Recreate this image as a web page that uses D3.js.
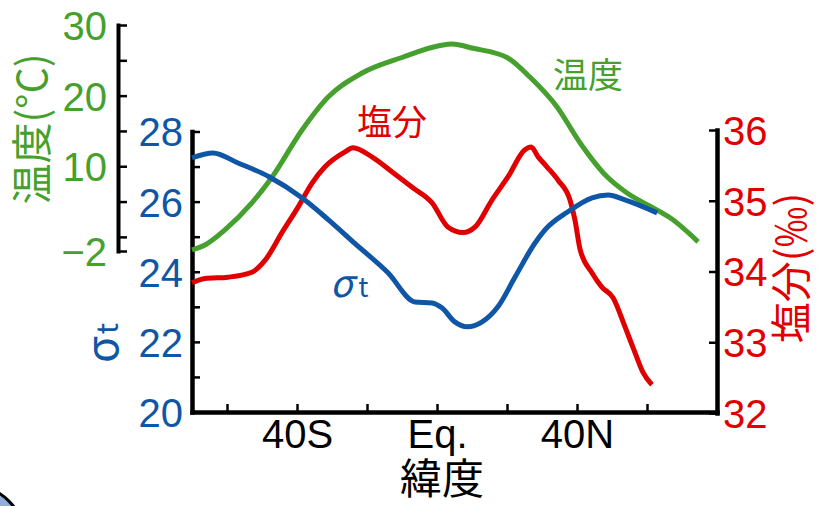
<!DOCTYPE html>
<html>
<head>
<meta charset="utf-8">
<script src="https://cdn.jsdelivr.net/npm/d3@7"></script>
<style>
  body { margin: 0; background: #fff; }
  svg { display: block; }
  .num { font-family: "Liberation Sans", Arial, sans-serif; font-size: 40px; }
  .jp { font-family: "Noto Sans CJK JP", sans-serif; }
</style>
</head>
<body>
<svg id="chart" width="819" height="506"></svg>
<script>
// latitude in degrees (S negative, N positive)
const latSigma = [-70, -64, -57, -48, -38.6, -31, -23.4, -14, -6.3, -1.4, 1.4, 5.1, 8.6, 12.9, 17.4, 22.3, 28, 30.9, 37.4, 44.3, 48.9, 53.7, 62.9]
const sigmaT = [27.25, 27.39, 27.11, 26.71, 26.11, 25.48, 24.8, 23.97, 23.14, 23.11, 22.97, 22.57, 22.43, 22.57, 23.0, 23.85, 24.82, 25.2, 25.71, 26.11, 26.19, 26.05, 25.68]

const latTemp = [-70, -66.3, -60.6, -52.9, -47.1, -38.6, -31.1, -21.4, -10, 0.9, 4.3, 10.3, 20, 26.6, 34.3, 40.9, 48.6, 54.3, 62.9, 66.6, 74.6]
const temperature = [-1.85, -1.15, 0.98, 4.8, 8.48, 15.1, 19.8, 23.2, 25.4, 27.1, 27.3, 26.7, 25.4, 22.6, 18.4, 13.3, 8.5, 6.2, 3.8, 2.7, -0.7]

const latSal = [-70, -66.3, -59.7, -52.9, -49.1, -44.3, -39.7, -35.7, -32, -26.3, -24, -18.6, -12.9, -7.1, -1.4, 3.1, 7.4, 10.9, 15.7, 20.3, 25.1, 26.9, 28.9, 31.4, 34.6, 38, 39.4, 40.9, 44.3, 47.1, 50.3, 53.7, 56.6, 58.9, 61.4]
const salinity = [33.84, 33.9, 33.92, 33.99, 34.16, 34.55, 34.91, 35.25, 35.48, 35.69, 35.75, 35.62, 35.41, 35.19, 34.97, 34.63, 34.55, 34.63, 35.01, 35.34, 35.72, 35.76, 35.62, 35.48, 35.29, 35.01, 34.73, 34.31, 33.98, 33.78, 33.63, 33.22, 32.85, 32.57, 32.4]

const latTicks = [-60, -40, -20, 0, 20, 40, 60]
const latLabels = { "-40": "40S", "0": "Eq.", "40": "40N" }
const sigmaTicks = [20, 21, 22, 23, 24, 25, 26, 27, 28]
const salTicks = [32, 33, 34, 35, 36]
const tempTicks = [-2, 0, 5, 10, 15, 20, 25, 30]
const tempLabels = [30, 20, 10, -2]

const blue = "#0f56a6", green = "#45a02d", red = "#e00000"

const svg = d3.select("#chart")

// corner decoration
svg.append("circle")
    .attr("cx", -30).attr("cy", 540).attr("r", 55)
    .attr("fill", "#8fb0d8").attr("stroke", "#000").attr("stroke-width", 3)

const x = d3.scaleLinear().domain([-70, 80]).range([192, 717])
const ySigma = d3.scaleLinear().domain([20, 28]).range([412, 131.5])
const ySal = d3.scaleLinear().domain([32, 36]).range([413, 130])
const yTemp = d3.scaleLinear().domain([-2, 30]).range([251, 25])

function styleAxis(g, color, domainWidth) {
    g.attr("font-size", null).attr("font-family", null)
    g.select(".domain").attr("stroke", "#000").attr("stroke-width", domainWidth).attr("stroke-linecap", "square")
    g.selectAll(".tick line").attr("stroke", "#000").attr("stroke-width", 2.5)
    g.selectAll(".tick text").attr("fill", color).attr("class", "num")
}

// temperature axis (top-left)
svg.append("g")
    .attr("transform", "translate(118,0)")
    .call(d3.axisLeft(yTemp).tickValues(tempTicks).tickSizeInner(-9).tickSizeOuter(0).tickPadding(11)
        .tickFormat(d => tempLabels.includes(d) ? (d < 0 ? "\u2212" + (-d) : d) : ""))
    .call(g => styleAxis(g, green, 4))
    .call(g => g.selectAll(".tick text").attr("dy", "0.36em"))

// sigma-t axis (left)
svg.append("g")
    .attr("transform", `translate(${x(-70)},0)`)
    .call(d3.axisLeft(ySigma).tickValues(sigmaTicks).tickSizeInner(-8).tickSizeOuter(0).tickPadding(9)
        .tickFormat(d => d % 2 === 0 ? d : ""))
    .call(g => styleAxis(g, blue, 4.5))
    .call(g => g.selectAll(".tick text").attr("dy", "0.36em"))

// salinity axis (right)
svg.append("g")
    .attr("transform", `translate(${x(80)},0)`)
    .call(d3.axisRight(ySal).tickValues(salTicks).tickSizeInner(-8).tickSizeOuter(0).tickPadding(6)
        .tickFormat(d3.format("d")))
    .call(g => styleAxis(g, red, 4.5))
    .call(g => g.selectAll(".tick text").attr("dy", "0.36em"))

// latitude axis (bottom)
svg.append("g")
    .attr("transform", `translate(0,${ySigma(20)})`)
    .call(d3.axisBottom(x).tickValues(latTicks).tickSizeInner(-8).tickSizeOuter(0).tickPadding(8)
        .tickFormat(d => latLabels[d] || ""))
    .call(g => styleAxis(g, "#000", 4.5))

// curves
const curve = d3.curveMonotoneX
const series = [
    { lat: latTemp, val: temperature, y: yTemp, color: green },
    { lat: latSal, val: salinity, y: ySal, color: red },
    { lat: latSigma, val: sigmaT, y: ySigma, color: blue }
]
series.forEach(s => {
    const line = d3.line().curve(curve)
        .x((d, i) => x(s.lat[i]))
        .y(d => s.y(d))
    svg.append("path")
        .datum(s.val)
        .attr("fill", "none")
        .attr("stroke", s.color)
        .attr("stroke-width", 5)
        .attr("d", line)
})

// axis titles
svg.append("text").attr("class", "jp")
    .attr("transform", "translate(33,129) rotate(-90)")
    .attr("text-anchor", "middle").attr("dy", "0.35em")
    .attr("font-size", 41).attr("fill", green)
    .text("温度(°C)")

const sigTitle = svg.append("text").attr("class", "jp")
    .attr("transform", "translate(112,343) rotate(-90)")
    .attr("text-anchor", "middle").attr("dy", "0.35em")
    .attr("fill", blue)
sigTitle.append("tspan").attr("font-size", 44).text("σ")
sigTitle.append("tspan").attr("font-size", 30).attr("dx", 2).text("t")

svg.append("text").attr("class", "jp")
    .attr("transform", "translate(792,268) rotate(-90)")
    .attr("text-anchor", "middle").attr("dy", "0.35em")
    .attr("font-size", 41).attr("fill", red)
    .text("塩分(‰)")

svg.append("text").attr("class", "jp")
    .attr("x", 442).attr("y", 479)
    .attr("text-anchor", "middle").attr("dy", "0.35em")
    .attr("font-size", 42).attr("fill", "#000")
    .text("緯度")

// in-plot labels
svg.append("text").attr("class", "jp")
    .attr("x", 588).attr("y", 76)
    .attr("text-anchor", "middle").attr("dy", "0.35em")
    .attr("font-size", 35).attr("fill", green)
    .text("温度")

svg.append("text").attr("class", "jp")
    .attr("x", 392).attr("y", 123)
    .attr("text-anchor", "middle").attr("dy", "0.35em")
    .attr("font-size", 35).attr("fill", red)
    .text("塩分")

const sigLabel = svg.append("text").attr("class", "jp")
    .attr("x", 330).attr("y", 297)
    .attr("fill", blue)
sigLabel.append("tspan").attr("font-size", 38).attr("font-style", "italic").text("σ")
sigLabel.append("tspan").attr("font-size", 27).attr("dx", 5).text("t")
</script>
</body>
</html>
